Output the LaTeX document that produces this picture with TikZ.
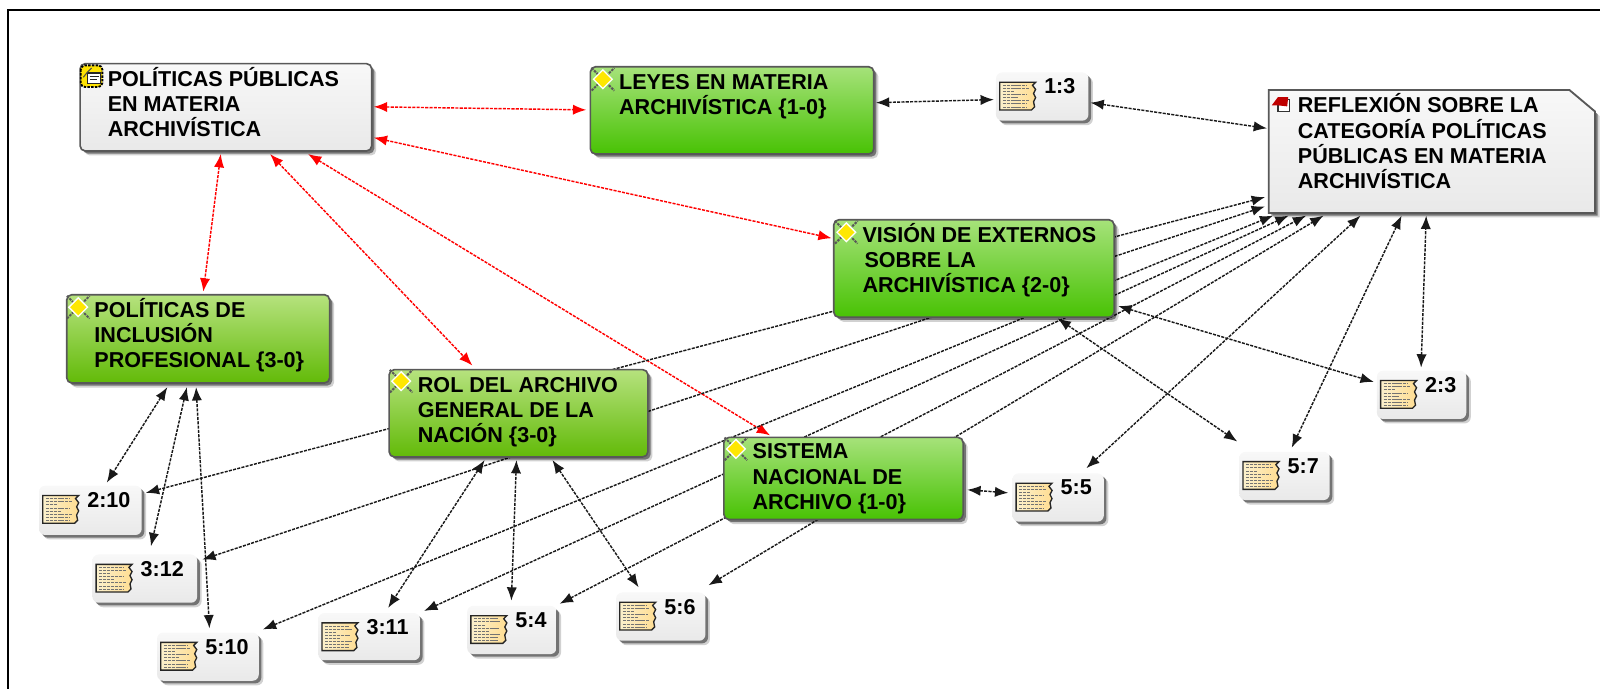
\documentclass[tikz,border=0pt]{standalone}
\usepackage{fontspec}
\setmainfont{Liberation Sans}
\usetikzlibrary{arrows.meta,shadows}
\pgfdeclarelayer{conn}\pgfdeclarelayer{bg}
\pgfsetlayers{conn,bg,main}
\definecolor{greenAt}{HTML}{A6E27A}\definecolor{greenAb}{HTML}{48C204}
\definecolor{greenBt}{HTML}{B6E27E}\definecolor{greenBb}{HTML}{62BA08}
\definecolor{grayT}{HTML}{F8F8F8}\definecolor{grayB}{HTML}{E9E9E9}
\definecolor{edge}{HTML}{585858}
\definecolor{paperL}{HTML}{FBF0CC}\definecolor{paperR}{HTML}{FFDD92}
\newdimen\pxu \pxu=.5pt
\newcommand\boxtxt[5]{\parbox[c][#2\pxu][t]{#1\pxu}{\fontsize{10.5}{12.2}\selectfont\bfseries\leftskip=#3\pxu\rightskip=0pt plus 1fil\parindent=0pt\noindent\rule{0pt}{#4\pxu}#5}}
\tikzset{
  softshadow/.style={drop shadow={shadow xshift=2.2pt,shadow yshift=-2.2pt,fill=black,opacity=.18},drop shadow={shadow xshift=1.3pt,shadow yshift=-1.3pt,fill=black,opacity=.45}},
  nodebox/.style={rectangle,inner sep=0pt,rounded corners=2.5pt,draw=edge,line width=.8pt,softshadow},
  greyconcept/.style={nodebox,top color=grayT,bottom color=grayB},
  greena/.style={nodebox,top color=greenAt,bottom color=greenAb},
  greenb/.style={nodebox,top color=greenBt,bottom color=greenBb},
  quotebox/.style={rectangle,inner sep=0pt,rounded corners=3pt,top color=grayT,bottom color=grayB,softshadow},
  link/.style={line width=.7pt,dash pattern=on 1.5pt off .6pt,{Latex[length=6.5pt,width=5pt]}-{Latex[length=6.5pt,width=5pt]}},
  blacklink/.style={link,color=black!90},
  redlink/.style={link,color=red},
}
\newcommand\codeicon[3]{\begin{scope}[shift={(#1.north west)}]
  \begin{scope}[shift={(#2,#3)}]
    \draw[black!65,line width=1pt,dash pattern=on 1.2pt off .5pt] (-11,-11)--(11,11) (-11,11)--(11,-11);
    \fill[white] (-10,0)--(0,-10)--(10,0)--(0,10)--cycle;
    \fill[yellow!90!orange] (-8,0)--(0,-8)--(8,0)--(0,8)--cycle;
  \end{scope}\end{scope}}
\newcommand\memoicon[1]{\begin{scope}[shift={(#1.north west)}]
  \draw[left color=paperL,right color=paperR,line width=.65pt,draw=black!85]
    (4,10)--(39,10)--(36,13)--(39,17)--(37,21)--(39,25)--(37,29)--(38,34)--(35,37)--(4,37)--cycle;
  \foreach \yy/\ee in {13/30,16/33,19/18,22/31,25/22,28/33,31/30,34/30}
    \draw[black!55,line width=.35pt,dash pattern=on 1.5pt off .4pt] (7,\yy)--(\ee,\yy);
  \end{scope}}
\begin{document}
\begin{tikzpicture}[x=.5pt,y=-.5pt]
\useasboundingbox (0,0) rectangle (1568,671);
% frame
\coordinate (frameTL) at (7.5,10);
\coordinate (frameTR) at (1558,10);
\coordinate (frameBL) at (7.5,671);
\draw[line width=1.1pt,black] (frameBL) -- (frameTL) -- (frameTR);
% concept nodes
\node[greyconcept] (pp) at (220,104.5) {\boxtxt{284}{85}{27}{22}{POLÍTICAS PÚBLICAS\\EN MATERIA\\ARCHIVÍSTICA}};
\node[greena] (ley) at (713,107.5) {\boxtxt{276}{85}{28}{22}{LEYES EN MATERIA\\ARCHIVÍSTICA \{1-0\}}};
\node[greena] (vis) at (948.5,261.5) {\boxtxt{273}{95}{28}{22}{VISIÓN DE EXTERNOS\\\hspace*{1pt}SOBRE LA\\ARCHIVÍSTICA \{2-0\}}};
\node[greenb] (pol) at (193,330) {\boxtxt{256}{86}{27}{22}{POLÍTICAS DE\\INCLUSIÓN\\PROFESIONAL \{3-0\}}};
\node[greenb] (rol) at (505,402.5) {\boxtxt{252}{85}{28}{22}{ROL DEL ARCHIVO\\GENERAL DE LA\\NACIÓN \{3-0\}}};
\node[greena] (sis) at (821.5,466) {\boxtxt{233}{80}{28}{21}{SISTEMA\\NACIONAL DE\\ARCHIVO \{1-0\}}};
\node[inner sep=0pt] (ref) at (1394.5,147.5) {\boxtxt{317}{119}{28}{22}{REFLEXIÓN SOBRE LA\\CATEGORÍA POLÍTICAS\\PÚBLICAS EN MATERIA\\ARCHIVÍSTICA}};
\begin{pgfonlayer}{bg}
\draw[top color=grayT,bottom color=grayB,draw=edge,line width=.9pt,softshadow]
  (ref.north west) -- ([xshift=-25\pxu]ref.north east) -- ([yshift=-21\pxu]ref.north east) -- (ref.south east) -- (ref.south west) -- cycle;
\end{pgfonlayer}
% quotation nodes
\node[quotebox] (m13) at (1015,94) {\boxtxt{90}{47}{47}{21}{1:3}};
\node[quotebox] (m23) at (1384.5,384.5) {\boxtxt{87}{47}{47}{21}{2:3}};
\node[quotebox] (m57) at (1251,463.5) {\boxtxt{88}{47}{47}{21}{5:7}};
\node[quotebox] (m55) at (1030.5,484.5) {\boxtxt{89}{47}{47}{21}{5:5}};
\node[quotebox] (m210) at (88,497) {\boxtxt{100}{48}{47}{21}{2:10}};
\node[quotebox] (m312) at (141,563.5) {\boxtxt{102}{47}{47}{21}{3:12}};
\node[quotebox] (m510) at (202.5,639.5) {\boxtxt{99}{47}{47}{21}{5:10}};
\node[quotebox] (m311) at (359.5,620) {\boxtxt{99}{46}{47}{21}{3:11}};
\node[quotebox] (m54) at (498.5,613.5) {\boxtxt{87}{47}{47}{21}{5:4}};
\node[quotebox] (m56) at (643.5,600.5) {\boxtxt{87}{47}{47}{21}{5:6}};
% icons
\begin{scope}[shift={(pp.north west)}]
  \begin{scope}[shift={(12,13)}]
    \fill[yellow!85!orange,rounded corners=2pt,draw=black,line width=.9pt,dash pattern=on 1.2pt off .6pt] (-10.5,-10.5) rectangle (10.5,10.5);
    \fill[white,draw=black!85,line width=.6pt] (-4,-3) rectangle (9,7);
    \draw[black!85,line width=.5pt] (-2,0)--(7,0) (-2,3)--(5,3);
    \draw[black!70,line width=.5pt] (-8,1)--(-4,-4)--(0,-8);
  \end{scope}
\end{scope}
\codeicon{ley}{13}{13}
\codeicon{vis}{13}{13}
\codeicon{pol}{12}{13}
\codeicon{rol}{12.5}{12}
\codeicon{sis}{12.5}{12}
\begin{scope}[shift={(ref.north west)}]
  \begin{scope}[shift={(12,14)}]
    \fill[white,draw=black!80,line width=.6pt] (-3,-5) rectangle (8,7);
    \fill[red!75!black] (-9,1)--(-3,-7)--(7,-7)--(6,2)--(-3,1)--cycle;
  \end{scope}
\end{scope}
\memoicon{m13}\memoicon{m23}\memoicon{m57}\memoicon{m55}\memoicon{m210}
\memoicon{m312}\memoicon{m510}\memoicon{m311}\memoicon{m54}\memoicon{m56}
% connectors
\begin{pgfonlayer}{conn}
\draw[redlink] ([shift={(144,-.5)}]pp.center) -- ([shift={(-142,-.5)}]ley.center);
\draw[redlink] ([shift={(144,29.5)}]pp.center) -- ([shift={(-138.5,-29.5)}]vis.center);
\draw[redlink] ([shift={(-5,45.5)}]pp.center) -- ([shift={(5,-46)}]pol.center);
\draw[redlink] ([shift={(43,45.5)}]pp.center) -- ([shift={(-45,-46.5)}]rol.center);
\draw[redlink] ([shift={(80,45.5)}]pp.center) -- ([shift={(-71.5,-42)}]sis.center);
\draw[blacklink] ([shift={(140,-7.5)}]ley.center) -- ([shift={(-47,3)}]m13.center);
\draw[blacklink] ([shift={(47,6)}]m13.center) -- ([shift={(-160.5,-22.5)}]ref.center);
\draw[blacklink] ([shift={(54,-17)}]m210.center) -- ([shift={(-162.5,44.5)}]ref.center);
\draw[blacklink] ([shift={(56,-18.5)}]m312.center) -- ([shift={(-162.5,53.5)}]ref.center);
\draw[blacklink] ([shift={(53.5,-26.5)}]m510.center) -- ([shift={(-154.5,62.5)}]ref.center);
\draw[blacklink] ([shift={(53.5,-25)}]m311.center) -- ([shift={(-139.5,62.5)}]ref.center);
\draw[blacklink] ([shift={(46.5,-25.5)}]m54.center) -- ([shift={(-122.5,62.5)}]ref.center);
\draw[blacklink] ([shift={(46.5,-30.5)}]m56.center) -- ([shift={(-105.5,62.5)}]ref.center);
\draw[blacklink] ([shift={(27.5,-28.5)}]m55.center) -- ([shift={(-69.5,62.5)}]ref.center);
\draw[blacklink] ([shift={(7,-27.5)}]m57.center) -- ([shift={(-29.5,62.5)}]ref.center);
\draw[blacklink] ([shift={(-.5,-26.5)}]m23.center) -- ([shift={(-5.5,62.5)}]ref.center);
\draw[blacklink] ([shift={(140.5,36.5)}]vis.center) -- ([shift={(-46.5,-12.5)}]m23.center);
\draw[blacklink] ([shift={(81.5,48.5)}]vis.center) -- ([shift={(-46,-33.5)}]m57.center);
\draw[blacklink] ([shift={(120.5,11)}]sis.center) -- ([shift={(-48.5,-4.5)}]m55.center);
\draw[blacklink] ([shift={(-30,47)}]pol.center) -- ([shift={(16,-27)}]m210.center);
\draw[blacklink] ([shift={(-11,47)}]pol.center) -- ([shift={(6,-31.5)}]m312.center);
\draw[blacklink] ([shift={(-2,47)}]pol.center) -- ([shift={(1.5,-27.5)}]m510.center);
\draw[blacklink] ([shift={(-33,45.5)}]rol.center) -- ([shift={(18.5,-28)}]m311.center);
\draw[blacklink] ([shift={(-2,45.5)}]rol.center) -- ([shift={(-.5,-28.5)}]m54.center);
\draw[blacklink] ([shift={(33,45.5)}]rol.center) -- ([shift={(-21.5,-28.5)}]m56.center);
\end{pgfonlayer}
\end{tikzpicture}
\end{document}
